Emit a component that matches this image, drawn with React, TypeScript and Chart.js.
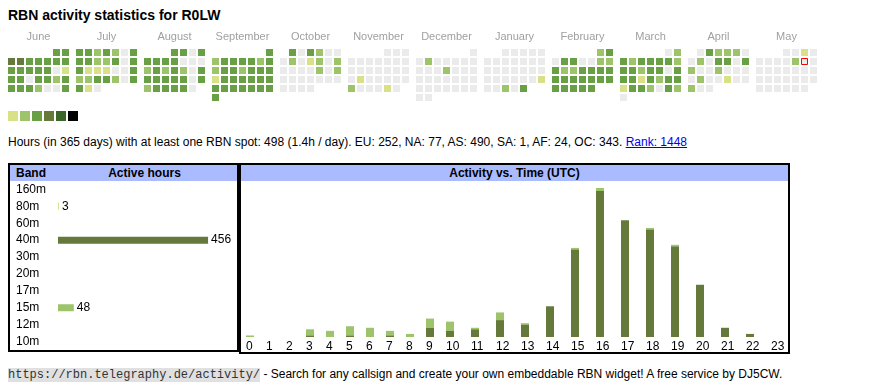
import React, { useEffect, useRef } from 'react';
import { Chart, registerables } from 'chart.js';

Chart.register(...registerables);

const SANS = '"Liberation Sans", Arial, Helvetica, sans-serif';
const MONO = '"Liberation Mono", "Courier New", monospace';
Chart.defaults.font.family = SANS;

// ---------------- data ----------------
const TITLE = 'RBN activity statistics for R0LW';

const MONTH_NAMES = ['June', 'July', 'August', 'September', 'October', 'November', 'December', 'January', 'February', 'March', 'April', 'May'];
const MONTH_YEARS = [2024, 2024, 2024, 2024, 2024, 2024, 2024, 2025, 2025, 2025, 2025, 2025];
const MONTH_INDEX = [5, 6, 7, 8, 9, 10, 11, 0, 1, 2, 3, 4];
// activity level per day of month (0 = none), weeks separated by spaces
const DAY_LEVELS = [
  '33 4433333 3333301 3303323 3332003',
  '3323203 3322303 3111003 2233203 310',
  '3303 3333000 2323203 3333303 233330',
  '3 2333323 2332333 1333333 3333333 3',
  '303200 0201202 0000202 0000000 0000',
  '000 0000000 0000000 0100000 200010',
  '0 0200000 0002000 0000000 0000000 00',
  '00000 0000000 0000000 0000001 00203',
  '23 0330022 3223333 3333333 33333',
  '02 3233332 3323303 3313233 1332032 0',
  '032220 0203303 2002000 0200100 200',
  '0010 0000200 0000000 0000000 000000',
];
const TODAY_MONTH = 11;
const TODAY_DAY = 10;
const LEVEL_COLORS = ['#ebebeb', '#d9e187', '#9dc36b', '#69a046', '#64793a', '#3b6629', '#000000'];
const LEGEND_LEVELS = [1, 2, 3, 4, 5, 6];

const BANDS = ['160m', '80m', '60m', '40m', '30m', '20m', '17m', '15m', '12m', '10m'];
const BAND_HOURS = [0, 3, 0, 456, 0, 0, 0, 48, 0, 0];
const BAND_COLORS = ['#d9e187', '#d9e187', '#d9e187', '#64793a', '#9dc36b', '#9dc36b', '#9dc36b', '#9dc36b', '#9dc36b', '#9dc36b'];

const HOURS = ['0', '1', '2', '3', '4', '5', '6', '7', '8', '9', '10', '11', '12', '13', '14', '15', '16', '17', '18', '19', '20', '21', '22', '23'];
const HOURS_40M = [0, 0, 0, 1, 0, 1, 0, 1, 0, 6, 4, 5, 11, 8, 20, 57, 95, 76, 70, 59, 34, 6, 2, 0];
const HOURS_OTHER = [1, 0, 0, 4, 4, 6, 6, 3, 2, 6, 6, 1, 5, 1, 0, 1, 2, 0, 1, 1, 0, 0, 0, 0];

const STATS_TEXT = 'Hours (in 365 days) with at least one RBN spot: 498 (1.4h / day). EU: 252, NA: 77, AS: 490, SA: 1, AF: 24, OC: 343. ';
const RANK_TEXT = 'Rank: 1448';
const FOOTER_URL = 'https://rbn.telegraphy.de/activity/';
const FOOTER_TEXT = ' - Search for any callsign and create your own embeddable RBN widget! A free service by DJ5CW.';

// ---------------- layout constants ----------------
const DARK = '#64793a';
const LIGHT = '#9dc36b';
const HEADER_BG = '#aabbff';

const HEAT_W = 822;
const HEAT_H = 100;
const CELL = 7;
const CELL_PITCH = 9;
const MONTH_PITCH = 68;
const ROW0_Y = 27.5;
const MONTH_LABEL_Y = 14.5;
const LEGEND_Y = 91;
const LEGEND_PITCH = 12;
const LEGEND_SIZE = 10;

const BAND_W = 227;
const BAND_H = 169;
const BAND_AXIS_MAX = 544;

const ACT_W = 547;
const ACT_H = 171;
const ACT_X_MIN = -5;
const NARROW_COL = 20;
const WIDE_COL = 25;
const BAR_W = 8;

const HeatMap: React.FC = () => {
  const ref = useRef<HTMLCanvasElement>(null);
  useEffect(() => {
    const cells: any[] = [];
    let today: any = null;
    MONTH_NAMES.forEach((_, m) => {
      const levels = DAY_LEVELS[m].replace(/ /g, '');
      const first = (new Date(MONTH_YEARS[m], MONTH_INDEX[m], 1).getDay() + 6) % 7;
      for (let d = 0; d < levels.length; d++) {
        const slot = first + d;
        const cell = {
          x: m * MONTH_PITCH + (slot % 7) * CELL_PITCH + CELL / 2,
          y: ROW0_Y + Math.floor(slot / 7) * CELL_PITCH,
          level: Number(levels[d]),
        };
        cells.push(cell);
        if (m === TODAY_MONTH && d + 1 === TODAY_DAY) today = { x: cell.x, y: cell.y };
      }
    });
    const legend = LEGEND_LEVELS.map((lv, i) => ({ x: i * LEGEND_PITCH + LEGEND_SIZE / 2, y: LEGEND_Y, level: lv }));
    const colorOf = (ctx: any) => LEVEL_COLORS[ctx.raw ? ctx.raw.level : 0];

    const monthLabels = {
      id: 'monthLabels',
      afterDatasetsDraw(chart: any) {
        const { ctx, scales } = chart;
        ctx.save();
        ctx.font = `11px ${SANS}`;
        ctx.fillStyle = '#a0a0a0';
        ctx.textAlign = 'center';
        ctx.textBaseline = 'alphabetic';
        MONTH_NAMES.forEach((name, m) => {
          const cx = scales.x.getPixelForValue(m * MONTH_PITCH + 3 * CELL_PITCH + CELL / 2);
          ctx.fillText(name, cx, scales.y.getPixelForValue(MONTH_LABEL_Y));
        });
        ctx.restore();
      },
    };

    const chart = new Chart(ref.current!, {
      type: 'scatter',
      data: {
        datasets: [
          {
            data: today ? [today] : [],
            pointStyle: 'rect',
            pointRadius: (CELL - 1) / Math.SQRT2,
            backgroundColor: 'rgba(0,0,0,0)',
            borderColor: '#ff0000',
            borderWidth: 1,
          } as any,
          {
            data: cells,
            pointStyle: 'rect',
            pointRadius: CELL / Math.SQRT2,
            backgroundColor: colorOf,
            borderWidth: 0,
          } as any,
          {
            data: legend,
            pointStyle: 'rect',
            pointRadius: LEGEND_SIZE / Math.SQRT2,
            backgroundColor: colorOf,
            borderWidth: 0,
          } as any,
        ],
      },
      options: {
        responsive: false,
        animation: false,
        events: [],
        layout: { padding: 0, autoPadding: false } as any,
        plugins: { legend: { display: false }, tooltip: { enabled: false } },
        scales: {
          x: { type: 'linear', display: false, min: 0, max: HEAT_W },
          y: { type: 'linear', display: false, min: 0, max: HEAT_H, reverse: true },
        },
      },
      plugins: [monthLabels],
    });
    return () => chart.destroy();
  }, []);
  return <canvas ref={ref} width={HEAT_W} height={HEAT_H} style={{ width: HEAT_W, height: HEAT_H, display: 'block' }} />;
};

const BandChart: React.FC = () => {
  const ref = useRef<HTMLCanvasElement>(null);
  useEffect(() => {
    const valueLabels = {
      id: 'valueLabels',
      afterDatasetsDraw(chart: any) {
        const { ctx } = chart;
        const meta = chart.getDatasetMeta(0);
        ctx.save();
        ctx.font = `12px ${SANS}`;
        ctx.fillStyle = '#000';
        ctx.textAlign = 'left';
        ctx.textBaseline = 'middle';
        meta.data.forEach((bar: any, i: number) => {
          if (BAND_HOURS[i] > 0) ctx.fillText(String(BAND_HOURS[i]), bar.x + 3, bar.y);
        });
        ctx.restore();
      },
    };
    const chart = new Chart(ref.current!, {
      type: 'bar',
      data: {
        labels: BANDS,
        datasets: [{ data: BAND_HOURS, backgroundColor: BAND_COLORS, borderWidth: 0, barThickness: 7, inflateAmount: 0 } as any],
      },
      options: {
        indexAxis: 'y',
        responsive: false,
        animation: false,
        events: [],
        layout: { padding: { left: 6, right: 0, top: 0, bottom: 0 }, autoPadding: false } as any,
        plugins: { legend: { display: false }, tooltip: { enabled: false } },
        scales: {
          x: { type: 'linear', display: false, min: 0, max: BAND_AXIS_MAX },
          y: {
            type: 'category',
            grid: { display: false, drawTicks: false },
            border: { display: false },
            ticks: { crossAlign: 'far', color: '#000', font: { size: 12, family: SANS }, padding: 0, autoSkip: false },
            afterFit: (s: any) => { s.width = 42; s.paddingTop = 0; s.paddingBottom = 0; },
          } as any,
        },
      },
      plugins: [valueLabels],
    });
    return () => chart.destroy();
  }, []);
  return <canvas ref={ref} width={BAND_W} height={BAND_H} style={{ width: BAND_W, height: BAND_H, display: 'block' }} />;
};

const ActivityChart: React.FC = () => {
  const ref = useRef<HTMLCanvasElement>(null);
  useEffect(() => {
    const colLeft: number[] = [];
    let acc = 0;
    HOURS.forEach((h) => {
      colLeft.push(acc);
      acc += h.length > 1 ? WIDE_COL : NARROW_COL;
    });
    const yMax = Math.max(...HOURS.map((_, i) => HOURS_40M[i] + HOURS_OTHER[i]));
    const chart = new Chart(ref.current!, {
      type: 'bar',
      data: {
        datasets: [
          {
            label: '40m',
            data: HOURS.map((_, i) => ({ x: colLeft[i] + BAR_W / 2, y: HOURS_40M[i] })),
            backgroundColor: DARK,
            borderWidth: 0,
            barThickness: BAR_W,
            inflateAmount: 0,
          } as any,
          {
            label: 'other',
            data: HOURS.map((_, i) => ({ x: colLeft[i] + BAR_W / 2, y: HOURS_OTHER[i] })),
            backgroundColor: LIGHT,
            borderWidth: 0,
            barThickness: BAR_W,
            inflateAmount: 0,
          } as any,
        ],
      },
      options: {
        responsive: false,
        animation: false,
        events: [],
        layout: { padding: { left: 0, right: 0, top: 7, bottom: 0 }, autoPadding: false } as any,
        plugins: { legend: { display: false }, tooltip: { enabled: false } },
        scales: {
          x: {
            type: 'linear',
            stacked: true,
            offset: false,
            min: ACT_X_MIN,
            max: ACT_X_MIN + ACT_W,
            grid: { display: false, drawTicks: false },
            border: { display: false },
            ticks: {
              autoSkip: false,
              maxRotation: 0,
              align: 'start',
              padding: 2,
              color: '#000',
              font: { size: 12, family: SANS },
              callback: (_v: any, i: number) => HOURS[i],
            },
            afterBuildTicks: (s: any) => { s.ticks = colLeft.map((v) => ({ value: v })); },
            afterFit: (s: any) => { s.height = 15; s.paddingLeft = 0; s.paddingRight = 0; },
          } as any,
          y: { type: 'linear', display: false, stacked: true, min: 0, max: yMax },
        },
      },
    });
    return () => chart.destroy();
  }, []);
  return <canvas ref={ref} width={ACT_W} height={ACT_H} style={{ width: ACT_W, height: ACT_H, display: 'block' }} />;
};

const abs = (left: number, top: number, extra: React.CSSProperties = {}): React.CSSProperties => ({ position: 'absolute', left, top, ...extra });

export default function App() {
  return (
    <div style={{ position: 'absolute', left: 0, top: 0, width: 870, height: 390, fontFamily: SANS, color: '#000', background: '#fff' }}>
      <div style={abs(8, 7, { fontSize: 14, fontWeight: 'bold', lineHeight: '16px', whiteSpace: 'nowrap' })}>{TITLE}</div>
      <div style={abs(8, 25)}><HeatMap /></div>
      <div style={abs(8, 135, { fontSize: 12, lineHeight: '14px', whiteSpace: 'nowrap' })}>
        {STATS_TEXT}
        <a href="#" style={{ color: '#0000ee', textDecoration: 'underline' }}>{RANK_TEXT}</a>
      </div>

      <div style={abs(8, 163, { width: 231, height: 189, border: '2px solid #000', boxSizing: 'border-box' })}>
        <div style={abs(0, 0, { width: 227, height: 16, background: HEADER_BG })} />
        <div style={abs(6, 0, { fontSize: 12, fontWeight: 'bold', lineHeight: '16px' })}>Band</div>
        <div style={abs(42, 0, { width: 185, textAlign: 'center', fontSize: 12, fontWeight: 'bold', lineHeight: '16px' })}>Active hours</div>
        <div style={abs(0, 16)}><BandChart /></div>
      </div>

      <div style={abs(239, 163, { width: 551, height: 191, border: '2px solid #000', boxSizing: 'border-box' })}>
        <div style={abs(0, 0, { width: 547, height: 16, background: HEADER_BG, textAlign: 'center', fontSize: 12, fontWeight: 'bold', lineHeight: '16px' })}>Activity vs. Time (UTC)</div>
        <div style={abs(0, 16)}><ActivityChart /></div>
      </div>

      <div style={abs(8, 367, { fontSize: 12, lineHeight: '14px', whiteSpace: 'nowrap' })}>
        <span style={{ fontFamily: MONO, fontSize: 12, background: '#e0e0e0', color: '#333' }}>{FOOTER_URL}</span>
        {FOOTER_TEXT}
      </div>
    </div>
  );
}
